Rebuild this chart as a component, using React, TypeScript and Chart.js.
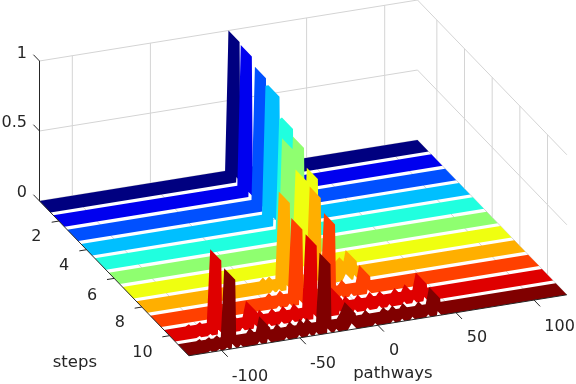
import React, { useEffect, useRef } from "react";
import { Chart, registerables } from "chart.js";

Chart.register(...registerables);

const RIBBON_WIDTH = 0.8;
const steps = [1, 2, 3, 4, 5, 6, 7, 8, 9, 10, 11];
const colors = ["#000080", "#0000ef", "#0050ff", "#00bfff", "#20ffdf", "#8fff70", "#efff10", "#ffaf00", "#ff4000", "#df0000", "#800000"];

const xLimits = [-121, 121];
const stepLimits = [0.6, 11.4];
const xTicks = [-100, -50, 0, 50, 100];
const stepTicks = [2, 4, 6, 8, 10];
const zTicks = [0, 0.5, 1];

// Narrow peaks of each ribbon: pathway position and height. Everything else lies on the floor.
const peakX1 = [0];
const peakH1 = [1];
const peakX2 = [-1];
const peakH2 = [1];
const peakX3 = [-0.8];
const peakH3 = [0.947];
const peakX4 = [-2.9, -1];
const peakH4 = [0.917, 0.917];
const peakX5 = [-3, -1.2];
const peakH5 = [0.78, 0.79];
const peakX6 = [-10, -3];
const peakH6 = [0.76, 0.76];
const peakX7 = [-10.2, -3];
const peakH7 = [0.64, 0.64];
const peakX8 = [-40, -36, -29.8, -10, 6, 9, 13];
const peakH8 = [0.025, 0.025, 0.62, 0.62, 0.05, 0.08, 0.126];
const peakX9 = [-45, -38, -30.6, -22, -9.7, -5, 1.5, 12.8];
const peakH9 = [0.025, 0.03, 0.535, 0.03, 0.533, 0.03, 0.035, 0.12];
const peakX10 = [-105, -98, -91.4, -85, -77, -68.5, -60, -52, -45, -38, -30.3, -22, -14, -5, 3, 10.5, 17, 26.5, 33, 40.2];
const peakH10 = [0.012, 0.015, 0.524, 0.03, 0.035, 0.115, 0.035, 0.03, 0.035, 0.04, 0.52, 0.04, 0.11, 0.035, 0.03, 0.035, 0.03, 0.035, 0.05, 0.12];
const peakX11 = [-107, -101, -96, -91.3, -87, -75, -68.9, -57.7, -49.5, -43, -38.5, -30.3, -25.7, -17, -14.2, -1, 10.5, 16.3, 23, 33, 39.9];
const peakH11 = [0.012, 0.015, 0.02, 0.49, 0.03, 0.035, 0.107, 0.035, 0.035, 0.04, 0.04, 0.49, 0.04, 0.04, 0.11, 0.03, 0.03, 0.03, 0.035, 0.03, 0.12];

const peakXs = [peakX1, peakX2, peakX3, peakX4, peakX5, peakX6, peakX7, peakX8, peakX9, peakX10, peakX11];
const peakHs = [peakH1, peakH2, peakH3, peakH4, peakH5, peakH6, peakH7, peakH8, peakH9, peakH10, peakH11];

function profile(xs: number[], hs: number[]) {
  const out: number[][] = [[xLimits[0], 0]];
  xs.forEach((x, i) => {
    const closeBefore = i > 0 && x - xs[i - 1] < 3.4;
    const closeAfter = i < xs.length - 1 && xs[i + 1] - x < 3.4;
    if (!closeBefore) {
      out.push([x - 2.2, 0]);
      out.push([x - 1.2, hs[i] * 0.45]);
    }
    out.push([x, hs[i]]);
    if (!closeAfter) out.push([x + 0.7, 0]);
  });
  out.push([xLimits[1], 0]);
  return out;
}

function project(x: number, s: number, z: number) {
  return {
    x: 39.5 + (x - xLimits[0]) * 1.562 + (s - stepLimits[0]) * 13.83,
    y: 201 - (x - xLimits[0]) * 0.252 + (s - stepLimits[0]) * 14.33 - z * 140,
  };
}

const GRID = "#d4d4d4";
const INK = "#262626";
const FONT = "16px 'DejaVu Sans'";
const TITLE_FONT = "16.5px 'DejaVu Sans'";

// pixel nudges of the tick texts away from their ticks
const zLabelNudge = [-8.5, -8.5, -7.5];
const stepLabelNudgeX = [-22.6, -22.4, -22, -22, -27];
const stepLabelNudgeY = [15.7, 15.9, 17, 16.3, 17.5];
const xLabelNudgeX = [28.3, 23.2, 16.1, 21, 25.5];
const xLabelNudgeY = [26, 25.6, 25.2, 24.8, 26.5];

function lineSet(points: number[][], color: string) {
  return {
    type: "scatter",
    showLine: true,
    fill: false,
    data: points.map((p) => project(p[0], p[1], p[2])),
    borderColor: color,
    borderWidth: 1,
    pointRadius: 0,
    tension: 0,
  };
}

function buildDatasets() {
  const [x0, x1] = xLimits;
  const [s0, s1] = stepLimits;
  const out: any[] = [];
  for (const z of zTicks) {
    out.push(lineSet([[x0, s0, z], [x1, s0, z], [x1, s1, z]], GRID));
  }
  for (const x of xTicks) {
    out.push(lineSet([[x, s1, 0], [x, s0, 0], [x, s0, 1]], GRID));
  }
  for (const s of stepTicks) {
    out.push(lineSet([[x0, s, 0], [x1, s, 0], [x1, s, 1]], GRID));
  }
  steps.forEach((s, i) => {
    const prof = profile(peakXs[i], peakHs[i]);
    const front = prof.map((p) => project(p[0], s + RIBBON_WIDTH / 2, p[1]));
    const back = prof.map((p) => project(p[0], s - RIBBON_WIDTH / 2, p[1]));
    out.push({
      type: "scatter",
      label: "step " + s,
      showLine: false,
      pointRadius: 0,
      data: front.concat(back),
      ribbonColor: colors[i],
    });
  });
  out.push(lineSet([[x0, s0, 1], [x0, s0, 0], [x0, s1, 0], [x1, s1, 0]], INK));
  for (const z of zTicks) {
    out.push(lineSet([[x0, s0, z], [x0, s0 - 0.44, z]], INK));
  }
  for (const s of stepTicks) {
    out.push(lineSet([[x0, s, 0], [x0 - 4.6, s, 0]], INK));
  }
  for (const x of xTicks) {
    out.push(lineSet([[x, s1, 0], [x, s1 + 0.44, 0]], INK));
  }
  out.forEach((d, i) => {
    d.order = out.length - i;
  });
  return out;
}

const ribbonPlugin = {
  id: "ribbons",
  afterDatasetDraw(chart: any, args: any) {
    const ds = chart.data.datasets[args.index];
    if (!ds.ribbonColor) return;
    const sx = chart.scales.x;
    const sy = chart.scales.y;
    const pts = ds.data.map((p: any) => [sx.getPixelForValue(p.x), sy.getPixelForValue(p.y)]);
    const n = pts.length / 2;
    const ctx = chart.ctx;
    ctx.save();
    ctx.fillStyle = ds.ribbonColor;
    ctx.beginPath();
    for (let j = 0; j < n - 1; j++) {
      const q = [pts[j], pts[j + 1], pts[n + j + 1], pts[n + j]];
      let area = 0;
      for (let k = 0; k < 4; k++) {
        const a = q[k];
        const b = q[(k + 1) % 4];
        area += a[0] * b[1] - b[0] * a[1];
      }
      if (area < 0) q.reverse();
      ctx.moveTo(q[0][0], q[0][1]);
      for (let k = 1; k < 4; k++) ctx.lineTo(q[k][0], q[k][1]);
      ctx.closePath();
    }
    ctx.fill("nonzero");
    ctx.restore();
  },
};

const labelPlugin = {
  id: "axisText",
  afterDraw(chart: any) {
    const ctx = chart.ctx;
    const sx = chart.scales.x;
    const sy = chart.scales.y;
    const [x0] = xLimits;
    const [s0, s1] = stepLimits;
    const put = (text: string, p: { x: number; y: number }, dx: number, dy: number, align: CanvasTextAlign) => {
      ctx.textAlign = align;
      ctx.fillText(text, sx.getPixelForValue(p.x) + dx, sy.getPixelForValue(p.y) + dy);
    };
    ctx.save();
    ctx.font = FONT;
    ctx.fillStyle = INK;
    ctx.textBaseline = "middle";
    zTicks.forEach((z, i) => put(String(z), project(x0, s0, z), -12.5, zLabelNudge[i], "right"));
    stepTicks.forEach((s, i) => put(String(s), project(x0, s, 0), stepLabelNudgeX[i], stepLabelNudgeY[i], "center"));
    xTicks.forEach((x, i) => put(String(x), project(x, s1, 0), xLabelNudgeX[i], xLabelNudgeY[i], "center"));
    ctx.font = TITLE_FONT;
    put("steps", project(x0, s1, 0), -114, 7, "center");
    put("pathways", project(0, s1, 0), 15, 48, "center");
    ctx.restore();
  },
};

export default function App() {
  const ref = useRef<HTMLCanvasElement>(null);
  useEffect(() => {
    document.body.style.margin = "0";
    const chart = new Chart(ref.current as HTMLCanvasElement, {
      type: "scatter",
      data: { datasets: buildDatasets() as any },
      options: {
        animation: false,
        responsive: false,
        events: [],
        layout: { padding: 0 },
        plugins: { legend: { display: false }, tooltip: { enabled: false }, title: { display: false } },
        scales: {
          x: { type: "linear", min: 0, max: 576, display: false },
          y: { type: "linear", min: 0, max: 384, reverse: true, display: false },
        },
      },
      plugins: [ribbonPlugin, labelPlugin],
    } as any);
    return () => chart.destroy();
  }, []);
  return <canvas ref={ref} width={576} height={384} style={{ display: "block", position: "absolute", left: 0, top: 0 }} />;
}
